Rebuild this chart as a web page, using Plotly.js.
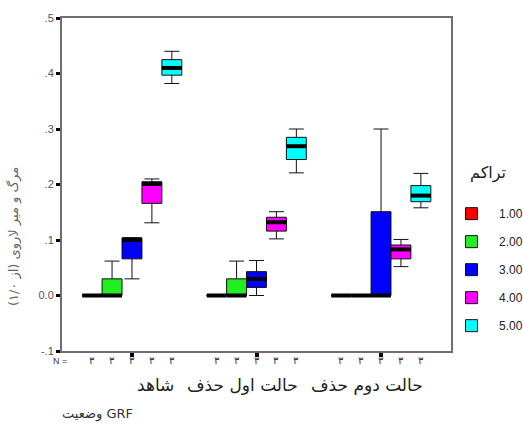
<!DOCTYPE html>
<html><head><meta charset="utf-8">
<script src="https://cdn.plot.ly/plotly-3.0.1.min.js"></script>
<style>html,body{margin:0;padding:0;background:#fff}#chart{width:523px;height:430px}</style>
</head><body><div id="chart"></div>
<script>
// ---- data ----
const groups = ['شاهد', 'حالت اول حذف', 'حالت دوم حذف'];
const seriesNames = ['1.00', '2.00', '3.00', '4.00', '5.00'];
const seriesColors = ['#ff0000', '#22ee22', '#0000ff', '#ff00ff', '#00ffff'];

// series 1.00
const lower1 = [0, 0, 0];
const q1_1 = [0, 0, 0];
const median1 = [0, 0, 0];
const q3_1 = [0, 0, 0];
const upper1 = [0, 0, 0];
// series 2.00
const lower2 = [0, 0, 0];
const q1_2 = [0, 0, 0];
const median2 = [0, 0, 0];
const q3_2 = [0.03, 0.03, 0];
const upper2 = [0.062, 0.062, 0];
// series 3.00
const lower3 = [0.03, 0.0, 0.0];
const q1_3 = [0.066, 0.0145, 0.0];
const median3 = [0.1, 0.03, 0.0];
const q3_3 = [0.104, 0.043, 0.151];
const upper3 = [0.104, 0.063, 0.30];
// series 4.00
const lower4 = [0.131, 0.102, 0.052];
const q1_4 = [0.166, 0.116, 0.066];
const median4 = [0.201, 0.132, 0.083];
const q3_4 = [0.205, 0.141, 0.091];
const upper4 = [0.21, 0.151, 0.101];
// series 5.00
const lower5 = [0.382, 0.221, 0.158];
const q1_5 = [0.397, 0.245, 0.169];
const median5 = [0.41, 0.269, 0.18];
const q3_5 = [0.425, 0.285, 0.198];
const upper5 = [0.44, 0.30, 0.22];

const nCounts1 = [3, 3, 3];
const nCounts2 = [3, 3, 3];
const nCounts3 = [3, 3, 3];
const nCounts4 = [3, 3, 3];
const nCounts5 = [3, 3, 3];

const yTickVals = [-0.1, 0, 0.1, 0.2, 0.3, 0.4, 0.5];
const yTickText = ['-.1', '0.0', '.1', '.2', '.3', '.4', '.5'];

const yTitle = 'مرگ و میر لاروی (از ۱/۰)';
const xTitle = 'وضعیت GRF';
const legendTitle = 'تراکم';

// ---- build ----
const stats = [
  [lower1, q1_1, median1, q3_1, upper1, nCounts1],
  [lower2, q1_2, median2, q3_2, upper2, nCounts2],
  [lower3, q1_3, median3, q3_3, upper3, nCounts3],
  [lower4, q1_4, median4, q3_4, upper4, nCounts4],
  [lower5, q1_5, median5, q3_5, upper5, nCounts5]
];
const slot = 0.16;
const xPos = si => groups.map((g, gi) => gi + (si - 2) * slot);
const faDigits = n => String(n).replace(/[0-9]/g, d => '۰۱۲۳۴۵۶۷۸۹'[+d]);

const traces = [];
const annotations = [];
stats.forEach((s, si) => {
  traces.push({
    type: 'box', name: seriesNames[si], x: xPos(si),
    lowerfence: s[0], q1: s[1], median: s[2], q3: s[3], upperfence: s[4],
    width: slot, fillcolor: seriesColors[si],
    line: {color: '#111', width: 1}, whiskerwidth: 0.75,
    boxpoints: false, hoverinfo: 'skip', legendgroup: 'g' + si
  });
});
stats.forEach((s, si) => {
  traces.push({
    type: 'scatter', mode: 'markers', x: xPos(si), y: s[2],
    marker: {symbol: 'line-ew', size: 14.2, color: '#000', line: {width: 4, color: '#000'}},
    showlegend: false, hoverinfo: 'skip'
  });
  xPos(si).forEach((xv, gi) => {
    annotations.push({
      xref: 'x', yref: 'paper', x: xv, y: -0.03, xanchor: 'center', yanchor: 'middle',
      text: faDigits(s[5][gi]),
      showarrow: false, font: {size: 10, color: '#333', family: 'DejaVu Sans'}
    });
  });
});
// group labels (right-aligned under each group)
groups.forEach((g, gi) => {
  annotations.push({
    xref: 'x', yref: 'paper', x: gi + 0.353, y: -0.102, xanchor: 'right', yanchor: 'middle',
    text: g, showarrow: false, font: {size: 17, color: '#222', family: 'DejaVu Sans'}
  });
});
annotations.push({xref: 'paper', yref: 'paper', x: -0.005, y: -0.03, xanchor: 'center', yanchor: 'middle',
  text: 'N =', showarrow: false, font: {size: 9, color: '#333'}});
annotations.push({xref: 'paper', yref: 'paper', x: -0.126, y: 0.345, xanchor: 'center', yanchor: 'middle',
  text: yTitle, textangle: -90,
  showarrow: false, font: {size: 13, color: '#666', family: 'DejaVu Sans'}});
annotations.push({xref: 'paper', yref: 'paper', x: -0.005, y: -0.19, xanchor: 'left', yanchor: 'middle',
  text: xTitle, showarrow: false, font: {size: 13, color: '#333', family: 'DejaVu Sans'}});
annotations.push({xref: 'paper', yref: 'paper', x: 1.095, y: 0.535, xanchor: 'center', yanchor: 'middle',
  text: legendTitle, showarrow: false, font: {size: 16, color: '#222', family: 'DejaVu Sans'}});

const layout = {
  width: 523, height: 430,
  margin: {l: 62, r: 72, t: 18, b: 79, autoexpand: false},
  paper_bgcolor: '#fff', plot_bgcolor: '#fff',
  font: {family: 'Liberation Sans, Arial, DejaVu Sans', color: '#333'},
  showlegend: true,
  xaxis: {
    range: [-0.562, 2.562], tickvals: [0, 1, 2], showticklabels: false,
    ticks: 'outside', ticklen: 4, tickwidth: 4, tickcolor: '#000',
    showline: true, linecolor: '#6e6e6e', linewidth: 2, mirror: true,
    showgrid: false, zeroline: false
  },
  yaxis: {
    range: [-0.1, 0.5], tickvals: yTickVals, ticktext: yTickText,
    ticks: 'outside', ticklen: 4, tickwidth: 3, tickcolor: '#000',
    showline: true, linecolor: '#6e6e6e', linewidth: 2, mirror: true,
    showgrid: false, zeroline: false,
    tickfont: {size: 11, color: '#555'}
  },
  legend: {
    x: 0.982, xanchor: 'left', y: 0.456, yanchor: 'top',
    bgcolor: 'rgba(0,0,0,0)', itemwidth: 45, traceorder: 'grouped', tracegroupgap: 9,
    font: {size: 12, color: '#222'}
  },
  annotations: annotations
};

Plotly.newPlot('chart', traces, layout, {staticPlot: true, displayModeBar: false});
</script>
</body></html>
